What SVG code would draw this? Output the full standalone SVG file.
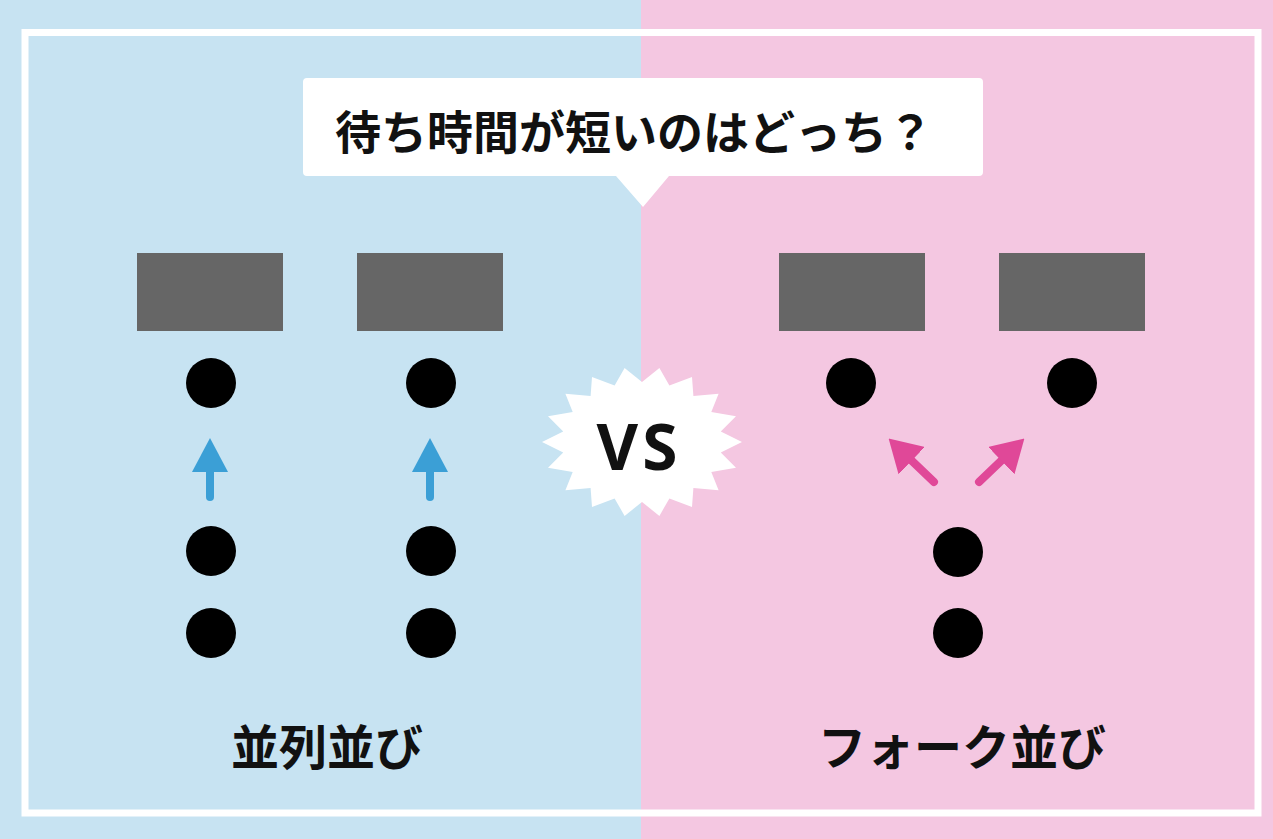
<svg xmlns="http://www.w3.org/2000/svg" width="1273" height="839" viewBox="0 0 1273 839">
<style>
.counter{fill:#666666}
.dot{fill:#000000}
.jp{font-family:"Noto Sans CJK JP","Noto Sans",sans-serif;font-weight:bold;fill:#111111}
.blue{stroke:#3b9fd6;stroke-width:8;stroke-linecap:round;fill:none}
.pink{stroke:#e04898;stroke-width:8;stroke-linecap:round;fill:none}
</style>
<defs>
<marker id="headBlue" markerUnits="userSpaceOnUse" markerWidth="34" markerHeight="36" viewBox="0 0 34 36" refX="1" refY="18" orient="auto">
<path d="M0,0 L34,18 L0,36 z" fill="#3b9fd6"/>
</marker>
<marker id="headPink" markerUnits="userSpaceOnUse" markerWidth="32" markerHeight="38" viewBox="0 0 32 38" refX="1" refY="19" orient="auto">
<path d="M0,0 L32,19 L0,38 z" fill="#e04898"/>
</marker>
</defs>
<g id="background">
<rect x="0" y="0" width="641" height="839" fill="#c7e3f2"/>
<rect x="641" y="0" width="632" height="839" fill="#f4c7e1"/>
<rect x="25" y="32.5" width="1233" height="780.5" fill="none" stroke="#ffffff" stroke-width="7"/>
</g>
<g id="bubble">
<path d="M307,78 H979 Q983,78 983,82 V172 Q983,176 979,176 H669 L643,207 L616,176 H307 Q303,176 303,172 V82 Q303,78 307,78 Z" fill="#ffffff"/>
<text class="jp" x="634" y="149" font-size="46" font-weight="600" text-anchor="middle">待ち時間が短いのはどっち？</text>
</g>
<g id="vs">
<polygon fill="#ffffff" points="742,442 720.8,452.4 736,467.7 711.3,472 718.6,490.2 693.4,488 692,507 669.4,498.4 659.4,515.9 642,502 624.6,515.9 614.6,498.4 592,507 590.6,488 565.4,490.2 572.7,472 548,467.7 563.2,452.4 542,442 563.2,431.6 548,416.3 572.7,412 565.4,393.8 590.6,396 592,377 614.6,385.6 624.6,368.1 642,382 659.4,368.1 669.4,385.6 692,377 693.4,396 718.6,393.8 711.3,412 736,416.3 720.8,431.6"/>
<text x="639" y="470" font-family="'Noto Sans','Liberation Sans',sans-serif" font-weight="bold" font-size="64" letter-spacing="4" text-anchor="middle" fill="#111111">VS</text>
</g>
<g id="parallel">
<rect id="counterL1" class="counter" x="137" y="253" width="146" height="78"/>
<rect id="counterL2" class="counter" x="357" y="253" width="146" height="78"/>
<circle class="dot" cx="211" cy="383" r="25"/>
<circle class="dot" cx="211" cy="551" r="25"/>
<circle class="dot" cx="211" cy="633" r="25"/>
<circle class="dot" cx="431" cy="383" r="25"/>
<circle class="dot" cx="431" cy="551" r="25"/>
<circle class="dot" cx="431" cy="633" r="25"/>
<text class="jp" x="327" y="765" font-size="48" text-anchor="middle">並列並び</text>
</g>
<g id="fork">
<rect id="counterR1" class="counter" x="779" y="253" width="146" height="78"/>
<rect id="counterR2" class="counter" x="999" y="253" width="146" height="78"/>
<circle class="dot" cx="851" cy="383" r="25"/>
<circle class="dot" cx="1072" cy="383" r="25"/>
<circle class="dot" cx="958" cy="552" r="25"/>
<circle class="dot" cx="958" cy="633" r="25"/>
<text class="jp" x="962" y="765" font-size="48" text-anchor="middle">フォーク並び</text>
</g>
<g id="connectors">
<line class="blue" x1="210" y1="497" x2="210" y2="471" marker-end="url(#headBlue)"/>
<line class="blue" x1="430" y1="497" x2="430" y2="471" marker-end="url(#headBlue)"/>
<line class="pink" x1="934" y1="482" x2="911" y2="460" marker-end="url(#headPink)"/>
<line class="pink" x1="979" y1="482" x2="1002" y2="460" marker-end="url(#headPink)"/>
</g>
</svg>
